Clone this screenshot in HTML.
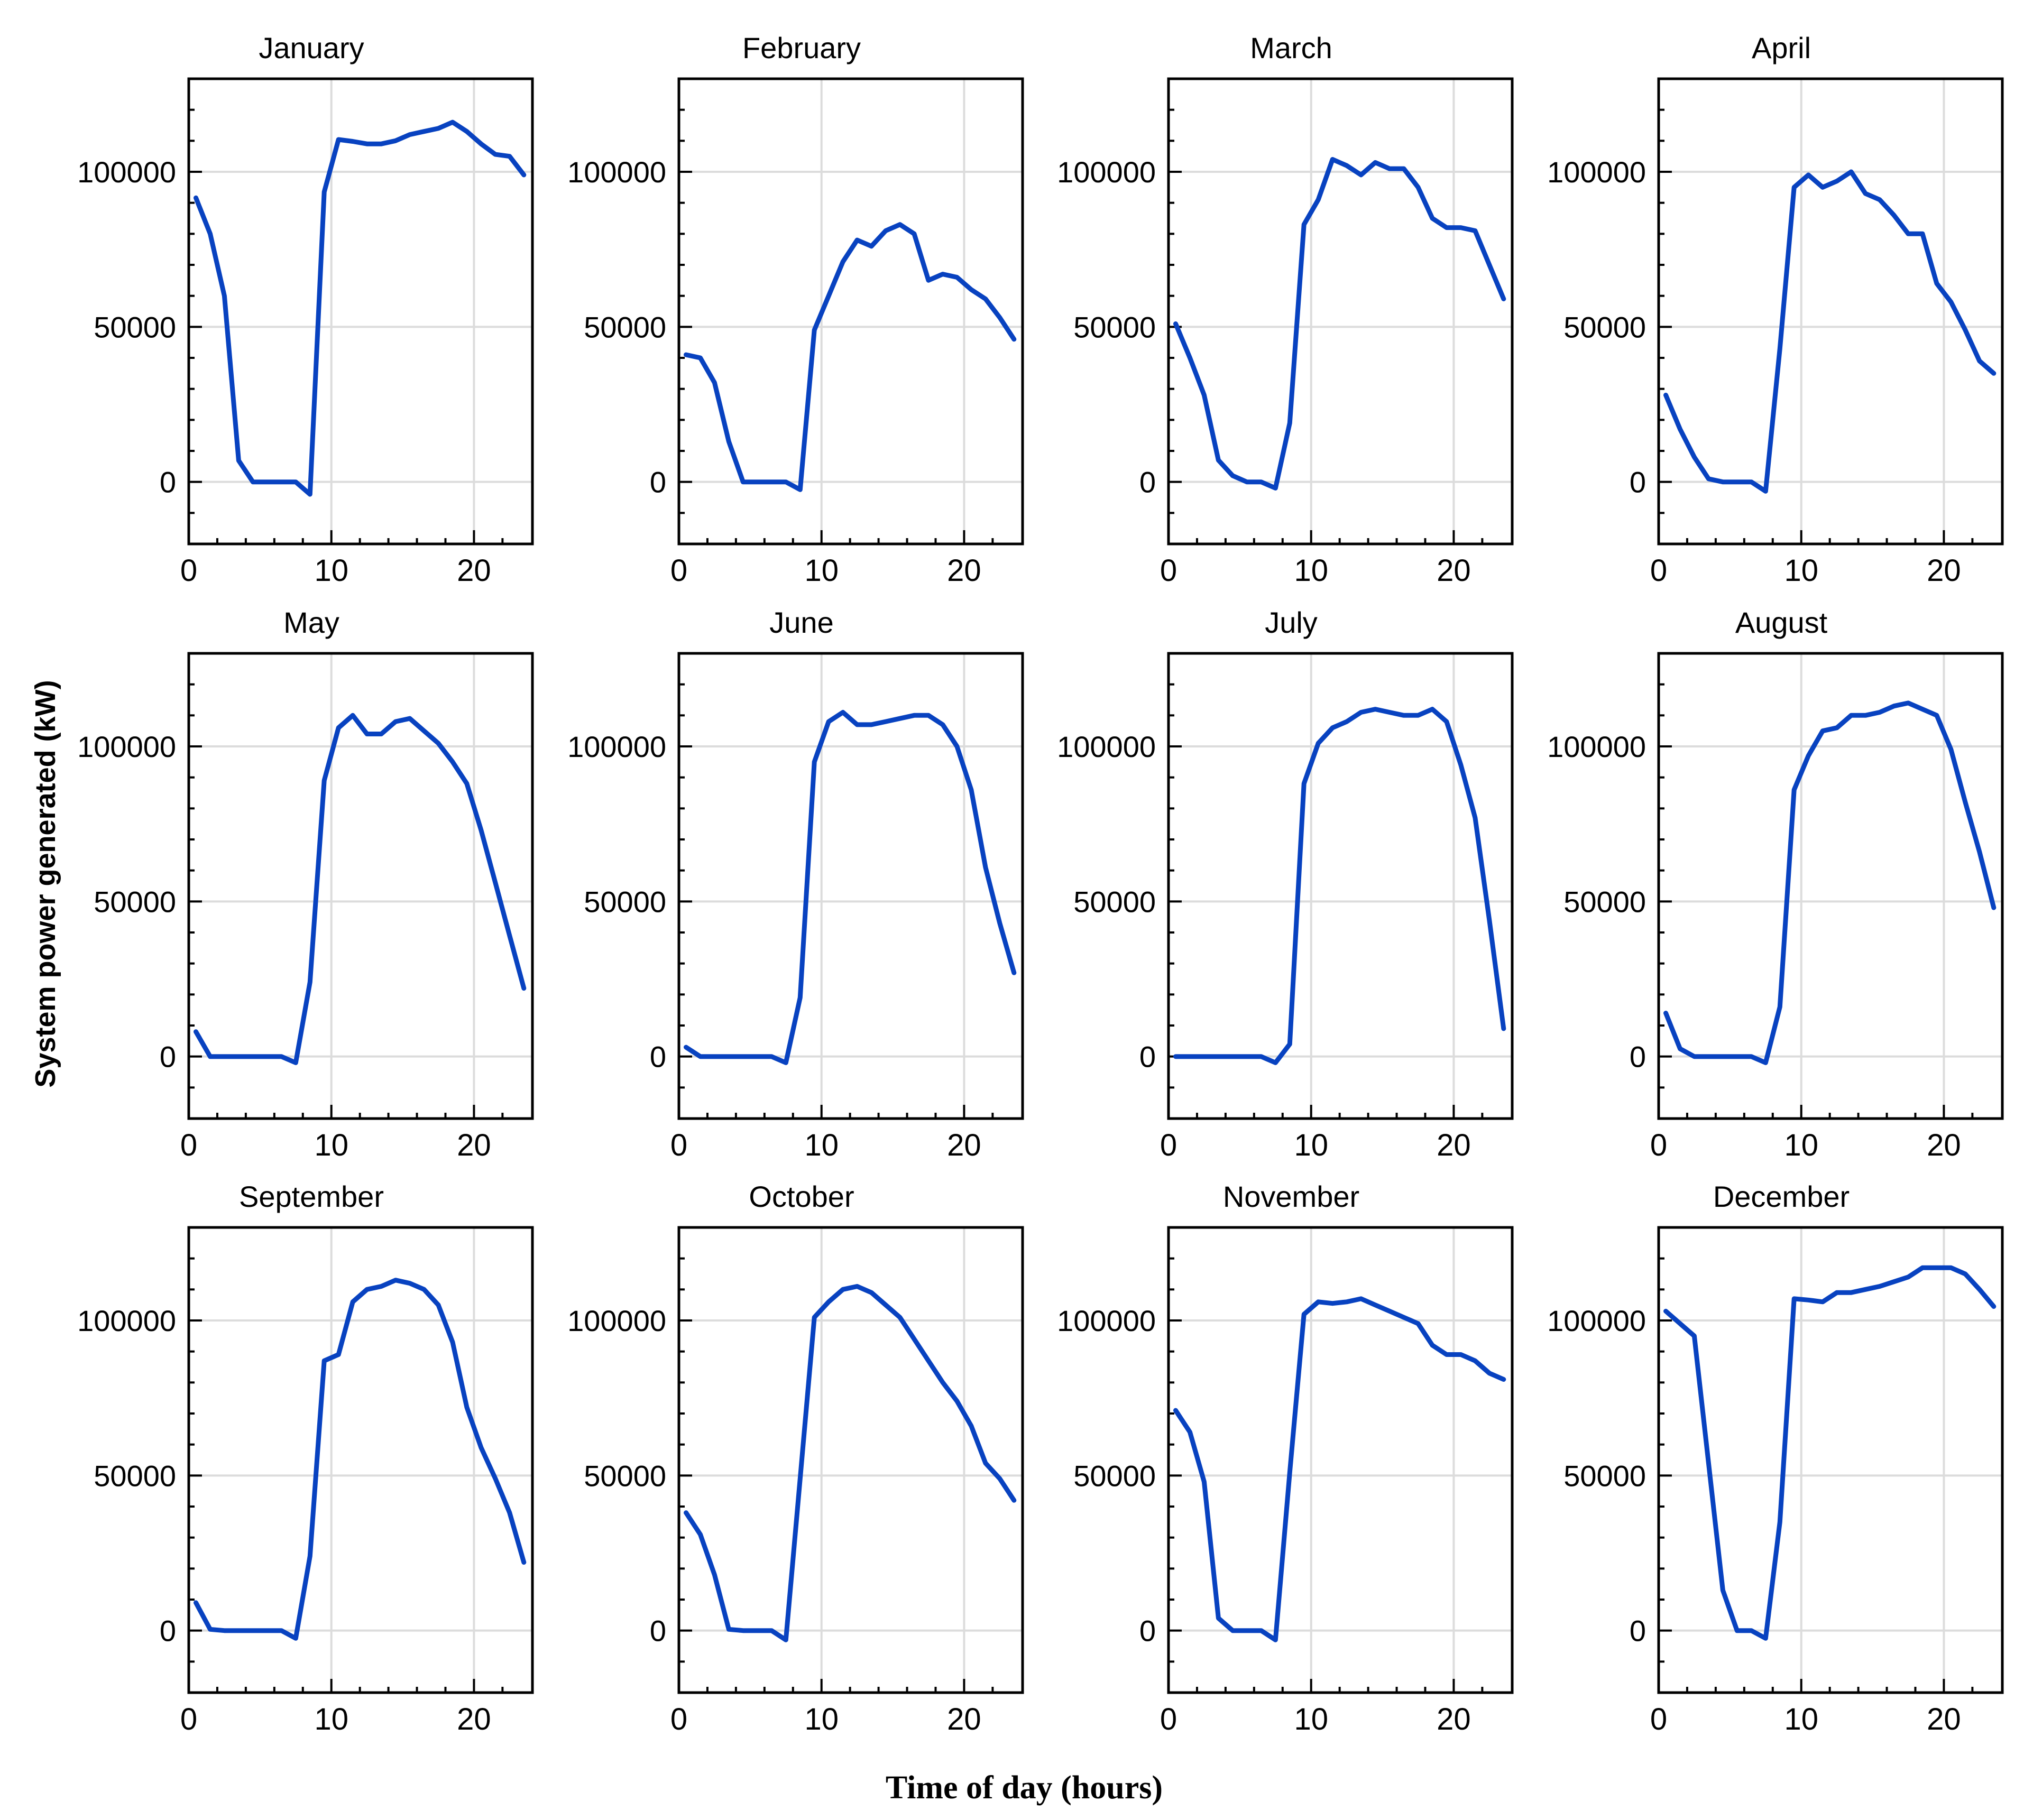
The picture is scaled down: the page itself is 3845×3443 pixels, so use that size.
<!DOCTYPE html>
<html><head><meta charset="utf-8"><style>
html,body{margin:0;padding:0;background:#fff;}
svg{display:block;}
</style></head><body>
<svg id="chart" xmlns="http://www.w3.org/2000/svg" width="3845" height="3443" viewBox="0 0 3845 3443">
<rect x="0" y="0" width="3845" height="3443" fill="#fff"/>
<text x="0" y="0" transform="translate(104,1672) rotate(-90)" text-anchor="middle" font-family="Liberation Sans, sans-serif" font-weight="bold" font-size="54" fill="#000">System power generated (kW)</text>
<text x="1937" y="3402" text-anchor="middle" font-family="Liberation Serif, serif" font-weight="bold" font-size="62" fill="#000">Time of day (hours)</text>
<g id="panels"></g>
</svg>
<script>
const months = ["January","February","March","April","May","June","July","August","September","October","November","December"];
const hours = [0.5,1.5,2.5,3.5,4.5,5.5,6.5,7.5,8.5,9.5,10.5,11.5,12.5,13.5,14.5,15.5,16.5,17.5,18.5,19.5,20.5,21.5,22.5,23.5];
const janVals = [91600,80000,60000,6900,0,0,0,0,-4000,93500,110400,109800,109000,109000,110000,112000,113000,114000,116000,113000,109000,105600,105000,99000];
const febVals = [41000,40000,32000,13000,0,0,0,0,-2500,49000,60000,71000,78000,76000,81000,83000,80000,65000,67000,66000,62000,59000,53000,46000];
const marVals = [51000,40000,28000,7000,2000,0,0,-2000,19000,83000,91000,104000,102000,99000,103000,101000,101000,95000,85000,82000,82000,81000,70000,59000];
const aprVals = [28000,17000,8000,1000,0,0,0,-3000,43000,95000,99000,95000,97000,100000,93000,91000,86000,80000,80000,64000,58000,49000,39000,35000];
const mayVals = [8000,0,0,0,0,0,0,-2000,24000,89000,106000,110000,104000,104000,108000,109000,105000,101000,95000,88000,73000,56000,39000,22000];
const junVals = [3000,0,0,0,0,0,0,-2000,19000,95000,108000,111000,107000,107000,108000,109000,110000,110000,107000,100000,86000,61000,43000,27000];
const julVals = [0,0,0,0,0,0,0,-2000,4000,88000,101000,106000,108000,111000,112000,111000,110000,110000,112000,108000,94000,77000,44000,9000];
const augVals = [14000,2500,0,0,0,0,0,-2000,16000,86000,97000,105000,106000,110000,110000,111000,113000,114000,112000,110000,99000,82000,66000,48000];
const sepVals = [9000,400,0,0,0,0,0,-2500,24000,87000,89000,106000,110000,111000,113000,112000,110000,105000,93000,72000,59000,49000,38000,22000];
const octVals = [38000,31000,18000,400,0,0,0,-3000,49000,101000,106000,110000,111000,109000,105000,101000,94000,87000,80000,74000,66000,54000,49000,42000];
const novVals = [71000,64000,48000,4000,0,0,0,-3000,51000,102000,106000,105500,106000,107000,105000,103000,101000,99000,92000,89000,89000,87000,83000,81000];
const decVals = [103000,99000,95000,54000,13000,0,0,-2500,35000,107000,106600,106000,109000,109000,110000,111000,112500,114000,117000,117000,117000,115000,110000,104500];
const series = [janVals,febVals,marVals,aprVals,mayVals,junVals,julVals,augVals,sepVals,octVals,novVals,decVals];
const yTickLabels = [0,50000,100000];
const xTickLabels = [0,10,20];

const NS = "http://www.w3.org/2000/svg";
const colLeft = [357,1284,2210,3137];
const rowTop = [149,1236,2322];
const W = 650, H = 880;
const xMin = 0, xMax = 24.1, yMin = -20000, yMax = 130000;
const root = document.getElementById('panels');

function mk(tag, attrs, parent){
  const e = document.createElementNS(NS, tag);
  for (const k in attrs) e.setAttribute(k, attrs[k]);
  parent.appendChild(e);
  return e;
}

months.forEach((m, i) => {
  const L = colLeft[i % 4], T = rowTop[Math.floor(i / 4)];
  const xs = v => L + (v - xMin) / (xMax - xMin) * W;
  const ys = v => T + H - (v - yMin) / (yMax - yMin) * H;
  const g = mk('g', {}, root);
  
  

  const title = mk('text', {x: L + W/2 - 93, y: T - 39, 'text-anchor': 'middle', 'font-family': 'Liberation Sans, sans-serif', 'font-size': 56, fill: '#000'}, g);
  
  
  title.textContent = m;

  yTickLabels.forEach(v => {
    const gl = mk('line', {x1: L, x2: L + W, y1: ys(v), y2: ys(v), stroke: '#dcdcdc', 'stroke-width': 4}, g);
    
    
  });
  xTickLabels.forEach(v => {
    if (v === 0) return;
    const gl = mk('line', {x1: xs(v), x2: xs(v), y1: T, y2: T + H, stroke: '#dcdcdc', 'stroke-width': 4}, g);
    
    
  });

  for (let v = -10000; v <= 120000; v += 10000) {
    const major = v % 50000 === 0;
    const t = mk('line', {x1: L, x2: L + (major ? 25 : 11), y1: ys(v), y2: ys(v), stroke: '#000', 'stroke-width': 4}, g);
    
    
  }
  for (let v = 2; v <= 22; v += 2) {
    const major = v % 10 === 0;
    const t = mk('line', {x1: xs(v), x2: xs(v), y1: T + H, y2: T + H - (major ? 26 : 11), stroke: '#000', 'stroke-width': 4}, g);
    
    
  }

  yTickLabels.forEach(v => {
    const tl = mk('text', {x: L - 24, y: ys(v) + 20, 'text-anchor': 'end', 'font-family': 'Liberation Sans, sans-serif', 'font-size': 56, fill: '#000'}, g);
    
    
    tl.textContent = v;
  });
  xTickLabels.forEach(v => {
    const tl = mk('text', {x: xs(v), y: T + H + 70, 'text-anchor': 'middle', 'font-family': 'Liberation Sans, sans-serif', 'font-size': 58, fill: '#000'}, g);
    
    
    tl.textContent = v;
  });

  const vals = series[i];
  const d = hours.map((h, k) => (k ? 'L' : 'M') + xs(h).toFixed(1) + ' ' + ys(vals[k]).toFixed(1)).join(' ');
  const p = mk('path', {d: d, fill: 'none', stroke: '#0842c0', 'stroke-width': 9, 'stroke-linejoin': 'round', 'stroke-linecap': 'round'}, g);
  
  

  const frame = mk('rect', {x: L, y: T, width: W, height: H, fill: 'none', stroke: '#000', 'stroke-width': 5}, g);
  
  
});
</script>
</body></html>
